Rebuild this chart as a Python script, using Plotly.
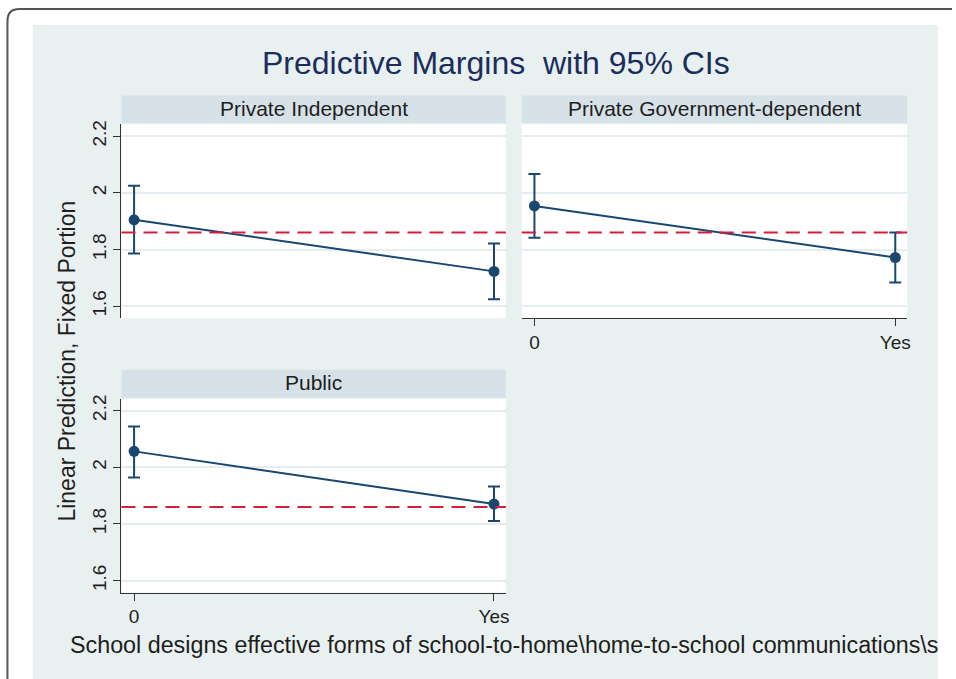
import plotly.graph_objects as go

W, H = 956, 679

# ---------------- data ----------------
groups = ["Private Independent", "Private Government-dependent", "Public"]
x_vals = [0, 1]
x_labels = ["0", "Yes"]
y_ticks = [1.6, 1.8, 2.0, 2.2]
y_ticklabels = ["1.6", "1.8", "2", "2.2"]

margin_pi = [1.905, 1.723]
upper_pi = [2.025, 1.821]
lower_pi = [1.786, 1.625]

margin_pg = [1.954, 1.772]
upper_pg = [2.067, 1.860]
lower_pg = [1.842, 1.684]

margin_pu = [2.056, 1.870]
upper_pu = [2.144, 1.932]
lower_pu = [1.964, 1.810]

ref_line = 1.86

title = "Predictive Margins  with 95% CIs"
y_title = "Linear Prediction, Fixed Portion"
x_title = "School designs effective forms of school-to-home\\home-to-school communications\\s"

# ---------------- style ----------------
FONT = "Liberation Sans, Arial, Helvetica, sans-serif"
NAVY = "#1a476f"
RED = "#d21f3c"
BG = "#e8f0f0"
STRIP = "#d7e2e8"
GRID = "#e6edf0"
AX = "#333333"


def px_x(x):
    return x / W


def px_y(y):
    return 1 - y / H


# panel pixel boxes: (x0, x1, y0_top, y1_bottom)
panels = [
    (122, 508, 121, 316),
    (524, 911, 121, 316),
    (122, 508, 397, 592),
]
strips = [
    (122, 508, 92, 120),
    (524, 911, 92, 120),
    (122, 508, 368, 396),
]

data = [
    (margin_pi, upper_pi, lower_pi),
    (margin_pg, upper_pg, lower_pg),
    (margin_pu, upper_pu, lower_pu),
]

fig = go.Figure()

shapes = []
annotations = []

# background region
shapes.append(dict(type="rect", xref="paper", yref="paper", layer="below",
                   x0=px_x(33), x1=px_x(942), y0=px_y(679), y1=px_y(21),
                   fillcolor=BG, line=dict(width=0)))
# outer frame (rounded corner top-left)
path = "M {a},{b} L {a},{c} Q {a},{d} {e},{d} L {f},{d}".format(
    a=px_x(7.5), b=px_y(679), c=px_y(17), d=px_y(5), e=px_x(19.5), f=px_x(956))
shapes.append(dict(type="path", xref="paper", yref="paper", path=path,
                   line=dict(color="#555555", width=2)))

x_range = [-0.035, 1.033]
y_range = [1.558, 2.242]

for i, ((x0, x1, y0, y1), (sx0, sx1, sy0, sy1), (m, up, lo)) in enumerate(zip(panels, strips, data)):
    n = "" if i == 0 else str(i + 1)
    xa = "xaxis" + n
    ya = "yaxis" + n
    xref = "x" + n
    yref = "y" + n

    # white plot area
    shapes.append(dict(type="rect", xref="paper", yref="paper", layer="below",
                       x0=px_x(x0), x1=px_x(x1), y0=px_y(y1), y1=px_y(y0),
                       fillcolor="white", line=dict(width=0)))
    # strip
    shapes.append(dict(type="rect", xref="paper", yref="paper", layer="below",
                       x0=px_x(sx0), x1=px_x(sx1), y0=px_y(sy1), y1=px_y(sy0),
                       fillcolor=STRIP, line=dict(width=0)))
    annotations.append(dict(xref="paper", yref="paper", x=(px_x(sx0) + px_x(sx1)) / 2,
                            y=px_y((sy0 + sy1) / 2 - 1), text=groups[i], showarrow=False,
                            xanchor="center", yanchor="middle",
                            font=dict(family=FONT, size=21, color="#1e1e1e")))

    show_y = i in (0, 2)
    show_x = i in (1, 2)

    fig.layout[xa] = dict(domain=[px_x(x0), px_x(x1)], range=x_range,
                          anchor=yref, showgrid=False, zeroline=False,
                          showline=show_x, linecolor=AX, linewidth=1.3,
                          tickmode="array", tickvals=x_vals if show_x else [],
                          ticktext=x_labels, ticks="outside" if show_x else "",
                          ticklen=7, tickcolor=AX, tickwidth=1.3,
                          showticklabels=show_x,
                          tickfont=dict(family=FONT, size=19, color="#1e1e1e"))
    fig.layout[ya] = dict(domain=[px_y(y1), px_y(y0)], range=y_range,
                          anchor=xref, showgrid=True, gridcolor=GRID, gridwidth=1.6,
                          zeroline=False, showline=show_y, linecolor=AX, linewidth=1.3,
                          tickmode="array", tickvals=y_ticks, ticktext=y_ticklabels,
                          ticks="outside" if show_y else "", ticklen=7,
                          tickcolor=AX, tickwidth=1.3, showticklabels=show_y,
                          tickangle=-90,
                          tickfont=dict(family=FONT, size=19, color="#1e1e1e"))

    # reference line
    shapes.append(dict(type="line", xref=xref + " domain", yref=yref,
                       x0=0, x1=1, y0=ref_line, y1=ref_line,
                       line=dict(color=RED, width=2, dash="14px,8px")))

    fig.add_trace(go.Scatter(
        x=x_vals, y=m, mode="lines+markers", xaxis=xref, yaxis=yref,
        line=dict(color=NAVY, width=2),
        marker=dict(color=NAVY, size=11),
        error_y=dict(type="data", symmetric=False,
                     array=[u - v for u, v in zip(up, m)],
                     arrayminus=[v - l for v, l in zip(m, lo)],
                     color=NAVY, thickness=2, width=6),
        showlegend=False, hoverinfo="x+y"))

# titles
annotations.append(dict(xref="paper", yref="paper", x=px_x(498), y=px_y(59),
                        text=title, showarrow=False, xanchor="center", yanchor="middle",
                        font=dict(family=FONT, size=32, color="#1c2d5c")))
annotations.append(dict(xref="paper", yref="paper", x=px_x(67), y=px_y(359),
                        text=y_title, showarrow=False, textangle=-90,
                        xanchor="center", yanchor="middle",
                        font=dict(family=FONT, size=23, color="#1e1e1e")))
annotations.append(dict(xref="paper", yref="paper", x=px_x(506), y=px_y(645),
                        text=x_title, showarrow=False, xanchor="center", yanchor="middle",
                        font=dict(family=FONT, size=23.3, color="#1e1e1e")))

fig.update_layout(
    width=W, height=H,
    margin=dict(l=0, r=0, t=0, b=0),
    paper_bgcolor="white",
    plot_bgcolor="rgba(0,0,0,0)",
    shapes=shapes,
    annotations=annotations,
    showlegend=False,
    font=dict(family=FONT),
)

fig.write_html("out.html", config={"displayModeBar": False},
               post_script="document.body.style.margin='0';document.body.style.overflow='hidden';")
